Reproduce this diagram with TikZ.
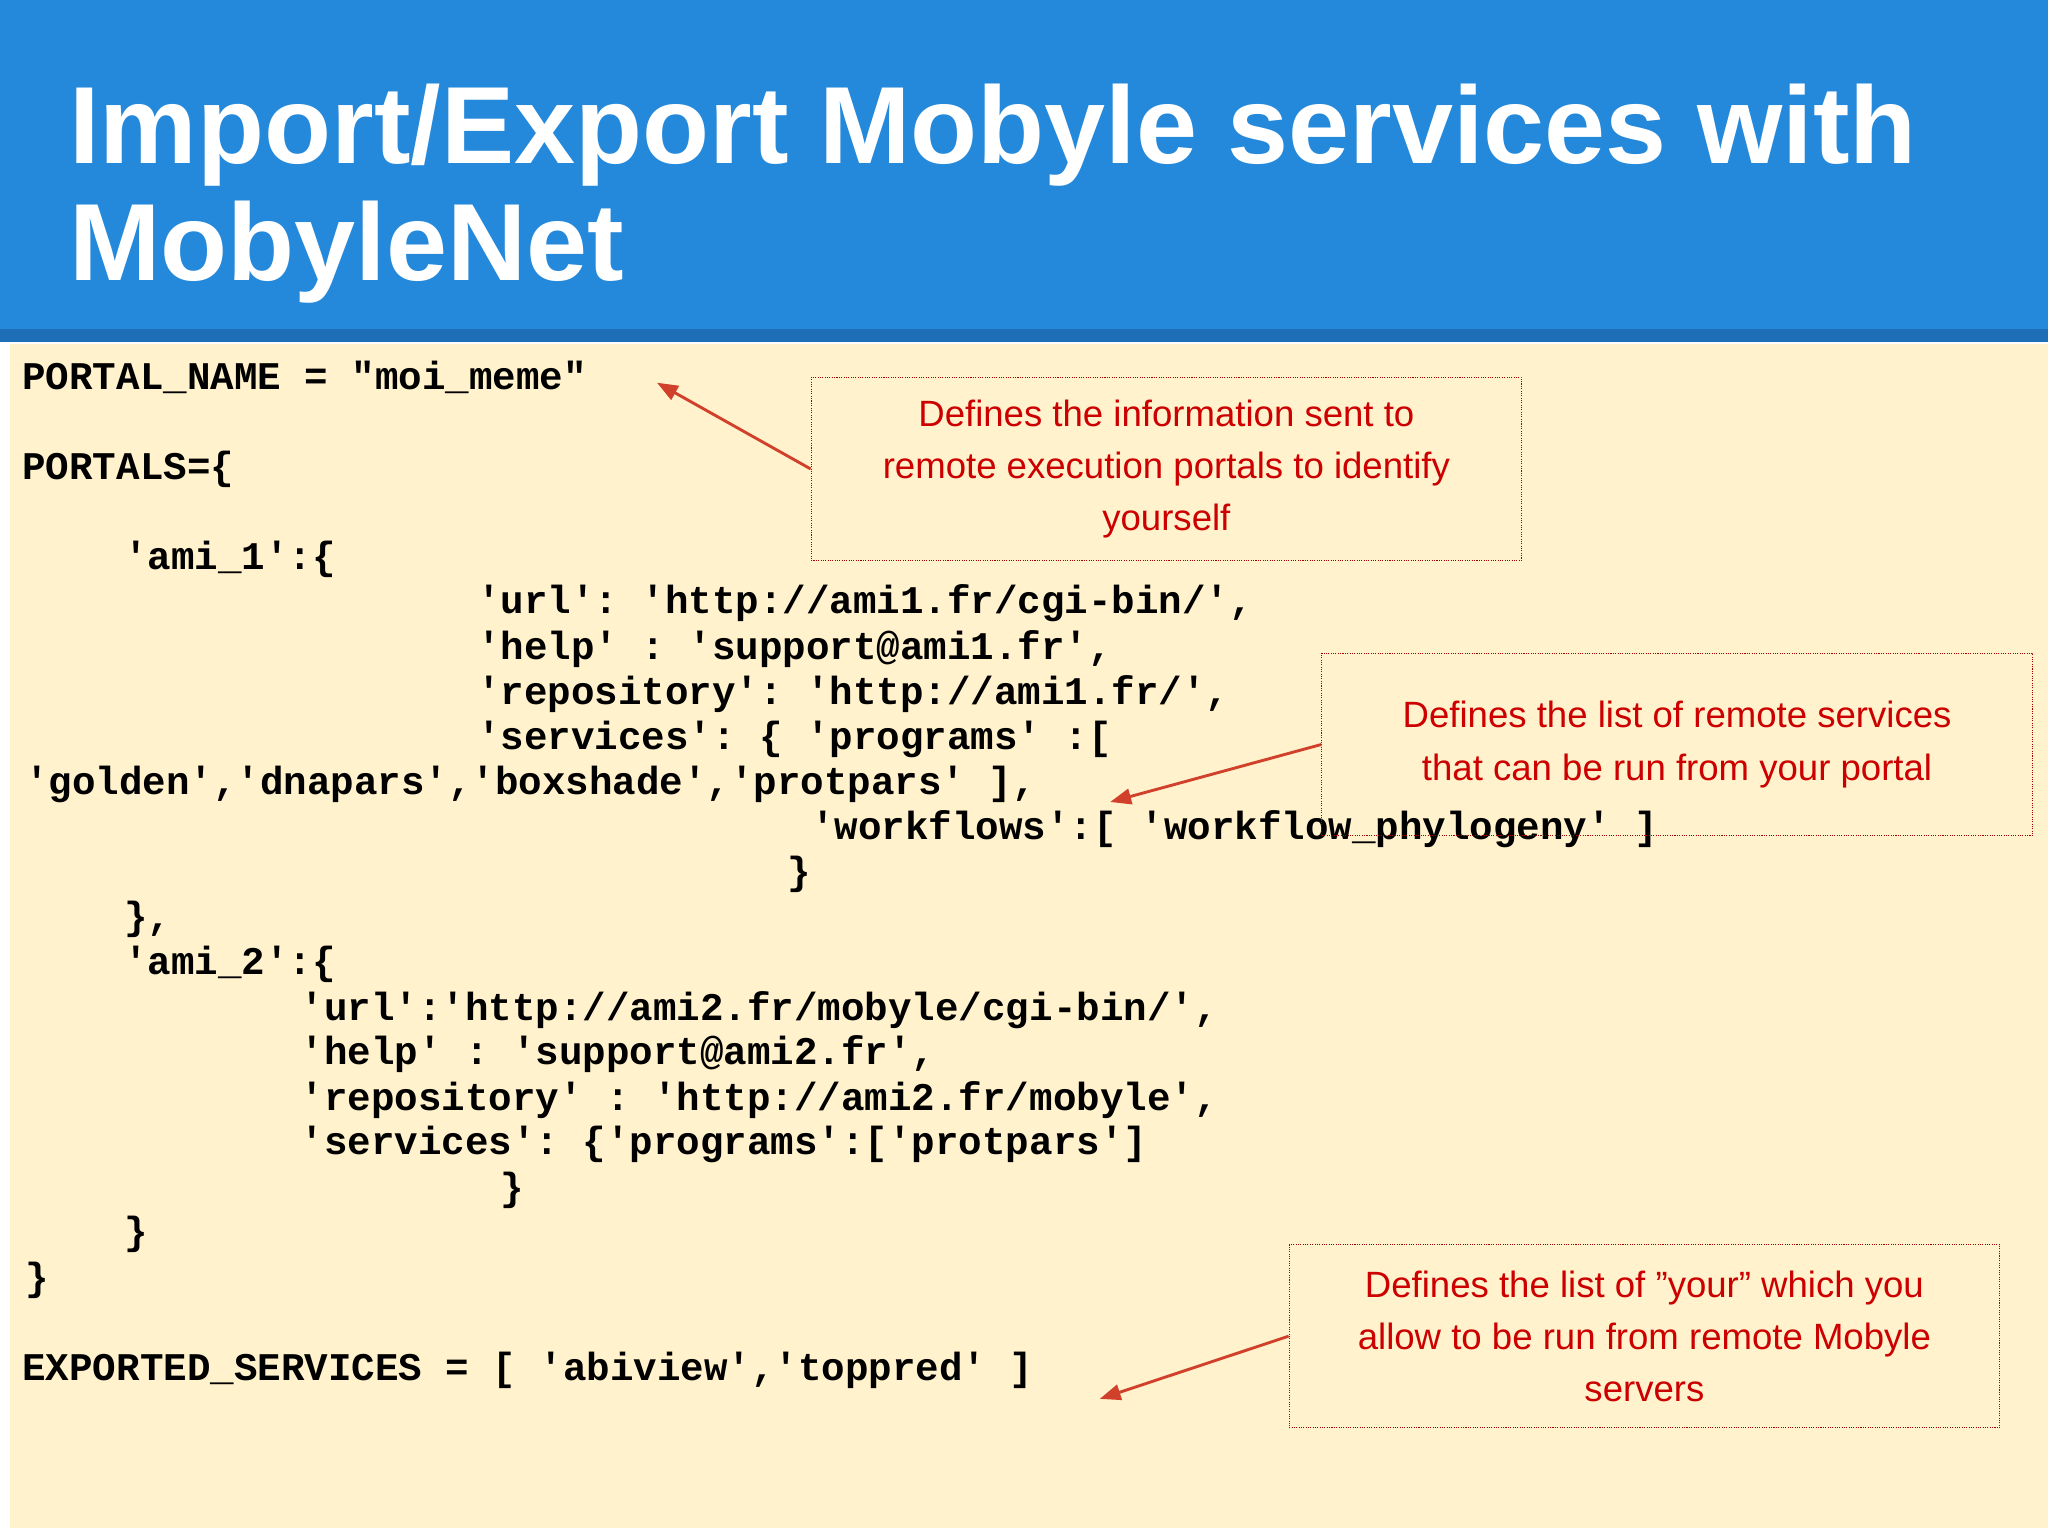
\documentclass[tikz,border=0pt]{standalone}
\usepackage{fontspec}
\setmainfont{Liberation Sans}
\setmonofont{Liberation Mono}
\usetikzlibrary{arrows.meta}
\definecolor{hdr}{HTML}{2589DB}
\definecolor{hdrline}{HTML}{1F6FB8}
\definecolor{cream}{HTML}{FFF2CC}
\definecolor{note}{HTML}{CC0000}
\definecolor{arr}{HTML}{D0402A}
\tikzset{x=1pt,y=-1pt,
 code/.style={anchor=base west,inner sep=0,font=\fontsize{30}{30}\selectfont\ttfamily\bfseries},
 notebox/.style={draw=note!80!black,densely dotted,line width=0.8pt,minimum width=544pt,minimum height=140pt,align=center,text=note,font=\fontsize{28}{40}\selectfont},
 callarrow/.style={draw=arr,line width=2.2pt,-{Triangle[length=16pt,width=12pt]}}}
\begin{document}
\begin{tikzpicture}
\useasboundingbox (0,0) rectangle (1568,1176);
\fill[white] (0,0) rectangle (1568,1176);
\fill[hdr] (0,0) rectangle (1568,255);
\fill[hdrline] (0,252) rectangle (1568,262);
\fill[cream] (8,263) rectangle (1568,1170);
\node[anchor=base west,inner sep=0,text=white,font=\fontsize{84}{90}\selectfont\bfseries] (t1) at (53,125) {Import/Export Mobyle services with};
\node[anchor=base west,inner sep=0,text=white,font=\fontsize{84}{90}\selectfont\bfseries] (t2) at (53,215) {MobyleNet};
\node[code] (c1) at (17,298) {PORTAL\_NAME = "moi\_meme"};
\node[code] (c2) at (17,367) {PORTALS=\{};
\node[code] (c3) at (95,436) {'ami\_1':\{};
\node[code] (c4) at (365,470) {'url': 'http://ami1.fr/cgi-bin/',};
\node[code] (c5) at (365,505) {'help' : 'support@ami1.fr',};
\node[code] (c6) at (365,539) {'repository': 'http://ami1.fr/',};
\node[code] (c7) at (365,574) {'services': \{ 'programs' :[};
\node[code] (c8) at (19,608) {'golden','dnapars','boxshade','protpars' ],};
\node[code] (c9) at (621,643) {'workflows':[ 'workflow\_phylogeny' ]};
\node[code] (c10) at (603,677) {\}};
\node[code] (c11) at (95,712) {\},};
\node[code] (c12) at (95,746) {'ami\_2':\{};
\node[code] (c13) at (230,781) {'url':'http://ami2.fr/mobyle/cgi-bin/',};
\node[code] (c14) at (230,815) {'help' : 'support@ami2.fr',};
\node[code] (c15) at (230,850) {'repository' : 'http://ami2.fr/mobyle',};
\node[code] (c16) at (230,884) {'services': \{'programs':['protpars']};
\node[code] (c17) at (383,919) {\}};
\node[code] (c18) at (95,953) {\}};
\node[code] (c19) at (19,988) {\}};
\node[code] (c20) at (17,1057) {EXPORTED\_SERVICES = [ 'abiview','toppred' ]};
\node[notebox] (n1) at (893,359) {Defines the information sent to\\remote execution portals to identify\\yourself};
\node[notebox] (n2) at (1284,570) {Defines the list of remote services\\that can be run from your portal};
\node[notebox] (n3) at (1259,1023) {Defines the list of "your" which you\\allow to be run from remote Mobyle\\servers};
\coordinate (a1) at (503,293);
\coordinate (a2) at (850,614);
\coordinate (a3) at (842,1071);
\draw[callarrow] (n1.west) -- (a1);
\draw[callarrow] (n2.west) -- (a2);
\draw[callarrow] (n3.west) -- (a3);
\end{tikzpicture}
\end{document}
